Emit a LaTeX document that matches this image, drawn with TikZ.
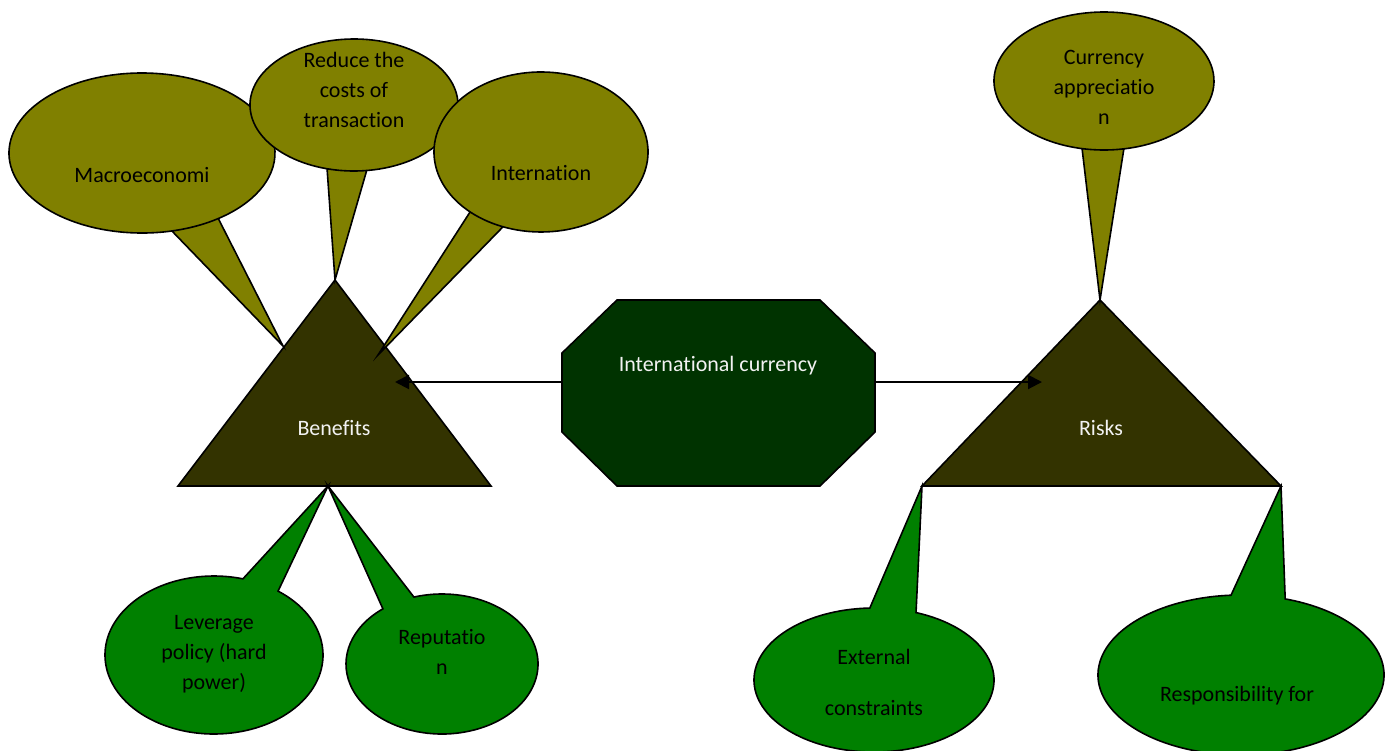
\documentclass[tikz,border=0pt]{standalone}
\usepackage{fontspec}
\setmainfont[Ligatures=NoCommon]{Carlito}
\usetikzlibrary{arrows.meta,calc}

\definecolor{oliveball}{HTML}{808000}
\definecolor{greenball}{HTML}{008000}
\definecolor{darktri}{HTML}{333300}
\definecolor{darkoct}{HTML}{003300}
\definecolor{paletext}{HTML}{F2F2F2}

\tikzset{
  ballline/.style={draw=black,line width=0.8pt,line join=miter},
  balltext/.style={align=center,font=\fontsize{11}{15}\selectfont,text=black},
  shapetext/.style={align=center,font=\fontsize{11}{15}\selectfont,text=paletext},
  linkarrow/.style={-{Triangle[length=7pt,width=7pt]},line width=1pt}
}

% speech bubble: colour, centre, x radius, y radius, start angle, end angle, tip
\newcommand{\bubble}[7]{%
  \filldraw[ballline,fill=#1] ($#2+(#5:#3 and #4)$)
    arc[start angle=#5,end angle=#6,x radius=#3,y radius=#4] -- #7 -- cycle;}

\begin{document}
\begin{tikzpicture}[x=0.5pt,y=-0.5pt]
  \useasboundingbox (0,0) rectangle (1385,750);

  % Draw the two triangles
  \coordinate (benTop) at (335,280);
  \coordinate (benBot) at (328,486);
  \coordinate (riskTop) at (1100,300);
  \coordinate (riskL) at (922,486);
  \coordinate (riskR) at (1281,486);
  \filldraw[ballline,fill=darktri] (benTop) -- (491,486) -- (178,486) -- cycle;
  \filldraw[ballline,fill=darktri] (riskTop) -- (riskR) -- (riskL) -- cycle;

  % Draw the olive bubbles (benefits on top)
  \bubble{oliveball}{(142,153)}{133}{80}{55}{437}{(283,346)}
  \bubble{oliveball}{(354,105)}{104}{66}{83}{465}{(benTop)}
  \bubble{oliveball}{(541,152)}{107}{80}{110.8}{491.5}{(378,355)}
  \bubble{oliveball}{(1104,81)}{110}{69}{79.6}{461.5}{(riskTop)}

  % Draw the green bubbles (below)
  \bubble{greenball}{(214,655)}{109}{79}{306}{645.4}{(benBot)}
  \bubble{greenball}{(442,664)}{96}{70}{253}{592}{(benBot)}
  \bubble{greenball}{(874,680)}{120}{72}{290.5}{628}{(riskL)}
  \bubble{greenball}{(1241,675)}{143}{80}{288}{626}{(riskR)}

  % Bubble labels
  \node[balltext] (macro) at (142,175) {Macroeconomi};
  \node[balltext] (cost) at (354,90) {Reduce the\\costs of\\transaction};
  \node[balltext] (inter) at (541,173) {Internation};
  \node[balltext] (appr) at (1104,87) {Currency\\appreciatio\\n};
  \node[balltext] (lever) at (214,654) {Leverage\\policy (hard\\power)};
  \node[balltext] (repu) at (442,652) {Reputatio\\n};
  \node[balltext] (extc) at (874,682) {External\\[10.5pt]constraints};
  \node[balltext] (resp) at (1237,696) {Responsibility for};

  % Draw the octagon in the middle
  \filldraw[ballline,fill=darkoct] (617,300) -- (820,300) -- (875,353) -- (875,432)
    -- (820,486) -- (617,486) -- (562,432) -- (562,353) -- cycle;
  \node[shapetext] (cur) at (718,366) {International currency};
  \node[shapetext] (ben) at (334,428) {Benefits};
  \node[shapetext] (risk) at (1101,428) {Risks};

  % Arrows to both sides
  \coordinate (curL) at (562,382);
  \coordinate (curR) at (875,382);
  \coordinate (benIn) at (395,382);
  \coordinate (riskIn) at (1042,382);
  \draw[linkarrow] (curL) -- (benIn);
  \draw[linkarrow] (curR) -- (riskIn);
\end{tikzpicture}
\end{document}
